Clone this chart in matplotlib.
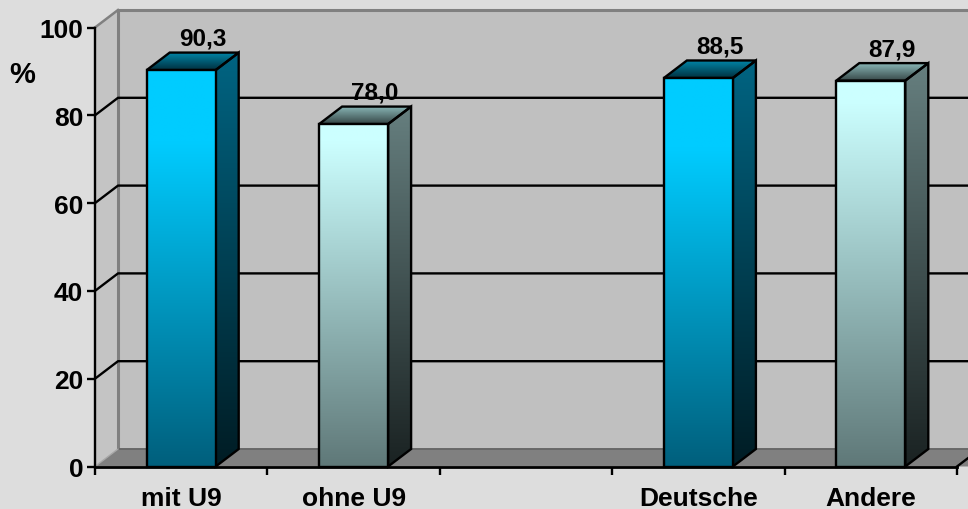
#!/usr/bin/env python3

import matplotlib
matplotlib.use('Agg')
import matplotlib.pyplot as plt
import numpy as np
from matplotlib.patches import Polygon

categories = ['mit U9', 'ohne U9', '', 'Deutsche', 'Andere']
values = [90.3, 78.0, None, 88.5, 87.9]
value_labels = ['90,3', '78,0', '', '88,5', '87,9']
styles = ['blue', 'pale', None, 'blue', 'pale']
y_ticks = [0, 20, 40, 60, 80, 100]

# (top colour, bottom colour) for each face
faces = {
    'blue': {'front': ('#00ccff', '#005f7c'), 'side': ('#006482', '#001c24'), 'top': ('#0088aa', '#00303f'), 'hold': 0.18},
    'pale': {'front': ('#ccffff', '#5f7878'), 'side': ('#667f7f', '#1a2222'), 'top': ('#8ab8b8', '#364646'), 'hold': 0.05},
}

plt.rcParams['font.family'] = ['Liberation Sans', 'DejaVu Sans']
plt.rcParams['font.weight'] = 'bold'

W, H = 968, 510
fig = plt.figure(figsize=(W / 100, H / 100), dpi=100, facecolor='#dddddd')
ax = fig.add_axes([95 / W, (H - 467.5) / H, (W - 95) / W, 439 / H])
ax.set_facecolor('none')
xmax = (W - 95) / 172.4
ax.set_xlim(0, xmax)
ax.set_ylim(0, 100)

# depth of the fake 3d box, in data units
dx = 23 / 172.4
dy = 17.5 / 4.39
n = len(categories)
bar_w = 69 / 172.4
line_w = 1.7


def poly(pts, **kw):
    p = Polygon(pts, closed=True, clip_on=False, **kw)
    ax.add_patch(p)
    return p


def gradient_poly(pts, c_top, c_bottom, zorder, hold=0.0):
    # vertical colour ramp clipped to a polygon, then outlined
    pts = np.array(pts)
    rgb0 = np.array(matplotlib.colors.to_rgb(c_top))
    rgb1 = np.array(matplotlib.colors.to_rgb(c_bottom))
    t = np.clip((np.linspace(0, 1, 256) - hold) / (1 - hold), 0, 1)[:, None, None]
    img = rgb0[None, None, :] * (1 - t) + rgb1[None, None, :] * t
    extent = [pts[:, 0].min(), pts[:, 0].max(), pts[:, 1].min(), pts[:, 1].max()]
    im = ax.imshow(img, extent=extent, origin='upper', aspect='auto', zorder=zorder, interpolation='bilinear')
    outline = poly(pts, facecolor='none', edgecolor='black', linewidth=line_w, zorder=zorder + 0.1, joinstyle='miter')
    im.set_clip_path(outline)
    im.set_clip_box(fig.bbox)


# walls and floor
poly([(dx, dy), (xmax + 1, dy), (xmax + 1, 100 + dy), (dx, 100 + dy)], facecolor='#c0c0c0', edgecolor='none', zorder=1)
poly([(0, 0), (dx, dy), (dx, 100 + dy), (0, 100)], facecolor='#c4c4c4', edgecolor='none', zorder=1)
ax.plot([dx, dx, xmax], [dy, 100 + dy, 100 + dy], color='#808080', lw=2.2, zorder=1.5, clip_on=False, solid_joinstyle='miter')
ax.plot([0, dx], [100, 100 + dy], color='#808080', lw=1.8, zorder=1.5, clip_on=False)

for v in y_ticks[1:-1]:
    ax.plot([0, dx, xmax], [v, v + dy, v + dy], color='black', lw=line_w, zorder=1.8, clip_on=False)

poly([(0, 0), (dx, dy), (xmax, dy), (xmax, 0)], facecolor='#808080', edgecolor='none', zorder=2)
ax.plot([dx, xmax], [dy, dy], color='#686868', lw=1.4, zorder=2.1, clip_on=False)
ax.plot([5, 5 + dx], [0, dy], color='black', lw=line_w, zorder=2.2, clip_on=False)
ax.plot([0, dx], [0, dy], color='#a8a8a8', lw=1.0, zorder=2.2, clip_on=False)

# bars
for i, val in enumerate(values):
    if val is None:
        continue
    f = faces[styles[i]]
    x0 = i + 0.5 - bar_w / 2
    x1 = i + 0.5 + bar_w / 2
    z = 3 + i
    gradient_poly([(x1, 0), (x1 + dx, dy), (x1 + dx, val + dy), (x1, val)], *f['side'], z)
    gradient_poly([(x0, val), (x1, val), (x1 + dx, val + dy), (x0 + dx, val + dy)], *f['top'], z)
    gradient_poly([(x0, 0), (x1, 0), (x1, val), (x0, val)], *f['front'], z + 0.2, hold=f['hold'])
    ax.annotate(value_labels[i], (i + 0.5 + dx / 2, val + dy), xytext=(7, 10.5), textcoords='offset points',
                ha='center', va='center', fontsize=17.5, fontweight='bold', color='black', zorder=20,
                annotation_clip=False)

ax.set_xlim(0, xmax)
ax.set_ylim(0, 100)

# axes and ticks
for s in ['top', 'right']:
    ax.spines[s].set_visible(False)
ax.spines['left'].set_linewidth(line_w)
ax.spines['bottom'].set_linewidth(2.0)
ax.spines['bottom'].set_bounds(0, 5)
ax.spines['left'].set_zorder(15)
ax.spines['bottom'].set_zorder(15)

ax.set_yticks(y_ticks)
ax.tick_params(axis='y', length=5.5, width=line_w, labelsize=19, pad=3)
ax.set_xticks(range(0, 6))
ax.set_xticklabels([])
ax.tick_params(axis='x', which='major', length=6, width=line_w)
ax.set_xticks(np.arange(n) + 0.5, minor=True)
ax.set_xticklabels(categories, minor=True, fontsize=19, fontweight='bold')
ax.tick_params(axis='x', which='minor', length=0, pad=14)

fig.text(22.5 / W, (H - 75) / H, '%', fontsize=21, fontweight='bold', ha='center', va='center')

fig.savefig('out.png', dpi=100, facecolor=fig.get_facecolor())
